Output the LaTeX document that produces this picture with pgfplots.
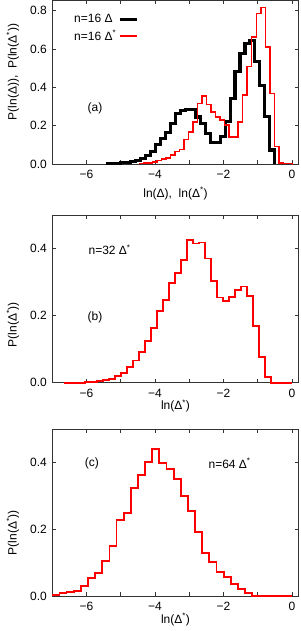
\documentclass[border=0pt]{standalone}
\usepackage{fontspec}
\setmainfont{Liberation Sans}
\usepackage{pgfplots}
\pgfplotsset{compat=1.18}

\newcommand{\fs}{\fontsize{12}{14}\selectfont}
\newcommand{\Ds}{Δ\textsuperscript{*}}

\pgfplotsset{
  myaxis/.style={
    scale only axis, width=246.4pt,
    xmin=-7, xmax=0.2,
    xtick={-6,-4,-2,0}, xticklabels={−6,−4,−2,0},
    minor xtick={-5,-3,-1},
    major tick length=4pt, minor tick length=4pt,
    every tick/.style={black!80, line width=0.6pt},
    axis line style={black!80, line width=0.8pt},
    tick label style={font=\fs},
    label style={font=\fs},
    /pgf/number format/fixed,
    /pgf/number format/fixed zerofill,
    /pgf/number format/precision=1,
    /pgf/number format/assume math mode=true,
    xticklabel style={yshift=-3pt},
    yticklabel style={xshift=-2pt},
    clip=false,
    anchor=south west,
    every axis plot/.append style={no marks, const plot mark left, line join=miter},
  }
}

\begin{document}
\begin{tikzpicture}
\useasboundingbox (0,0) rectangle (300pt,631pt);

% ---------------- (a)
\begin{axis}[myaxis, at={(52.3pt,467pt)}, height=164pt,
  ymin=0, ymax=0.855, ytick={0,0.2,0.4,0.6,0.8},
  xlabel={ln(Δ),\ \ ln(\Ds)},
  ylabel={P(ln(Δ)),\ \ P(ln(\Ds))},
  xlabel style={at={(axis description cs:0.5,-0.18)}, anchor=center},
  ylabel style={at={(axis description cs:-0.16,0.56)}, anchor=center},
  legend style={at={(axis description cs:0.08,0.925)}, anchor=north west,
    draw=none, fill=none, font=\fs, row sep=2pt, inner sep=0pt},
  legend cell align=left, legend plot pos=right,
]
\addplot[black, line width=3.1pt] coordinates {
(-5.430,0.002) (-5.285,0.003) (-5.140,0.004) (-4.995,0.006) (-4.850,0.009)
(-4.705,0.013) (-4.560,0.020) (-4.415,0.030) (-4.270,0.042) (-4.125,0.064)
(-3.980,0.100) (-3.835,0.134) (-3.690,0.165) (-3.545,0.210) (-3.400,0.264)
(-3.255,0.278) (-3.110,0.285) (-2.965,0.283) (-2.820,0.245) (-2.675,0.210)
(-2.530,0.160) (-2.385,0.111) (-2.240,0.111) (-2.095,0.142) (-1.950,0.220)
(-1.805,0.342) (-1.660,0.480) (-1.515,0.577) (-1.370,0.628) (-1.225,0.646)
(-1.080,0.533) (-0.935,0.410) (-0.790,0.246) (-0.645,0.073) (-0.500,0.000)
};
\addlegendentry{n=16 Δ}
\addplot[red, line width=1.5pt] coordinates {
(-4.472,0.002) (-4.340,0.004) (-4.208,0.006) (-4.076,0.010) (-3.944,0.017)
(-3.812,0.025) (-3.680,0.032) (-3.548,0.047) (-3.416,0.064) (-3.284,0.076)
(-3.152,0.128) (-3.020,0.168) (-2.888,0.220) (-2.756,0.316) (-2.624,0.354)
(-2.492,0.310) (-2.360,0.272) (-2.228,0.246) (-2.096,0.229) (-1.964,0.203)
(-1.832,0.142) (-1.700,0.142) (-1.568,0.220) (-1.436,0.360) (-1.304,0.507)
(-1.172,0.663) (-1.040,0.785) (-0.908,0.816) (-0.776,0.611) (-0.644,0.368)
(-0.512,0.090) (-0.380,0.006) (-0.248,0.003) (-0.116,0.002) (0.016,0.000)
};
\addlegendentry{n=16 \Ds}
\node[font=\fs] at (axis description cs:0.173,0.341) {(a)};
\end{axis}

% ---------------- (b)
\begin{axis}[myaxis, at={(52.3pt,248.3pt)}, height=167.7pt,
  ymin=0, ymax=0.5, ytick={0,0.2,0.4},
  xlabel={ln(\Ds)},
  ylabel={P(ln(\Ds))},
  xlabel style={at={(axis description cs:0.5,-0.14)}, anchor=center},
  ylabel style={at={(axis description cs:-0.16,0.345)}, anchor=center},
]
\addplot[red, line width=1.8pt] coordinates {
(-6.650,0.000)
(-6.035,0.001) (-5.860,0.002) (-5.685,0.004) (-5.510,0.007) (-5.335,0.012)
(-5.160,0.020) (-4.985,0.030) (-4.810,0.046) (-4.635,0.066) (-4.460,0.092)
(-4.285,0.124) (-4.110,0.162) (-3.935,0.214) (-3.760,0.246) (-3.585,0.298)
(-3.410,0.328) (-3.235,0.365) (-3.060,0.425) (-2.885,0.415) (-2.710,0.418)
(-2.535,0.370) (-2.360,0.304) (-2.185,0.254) (-2.010,0.243) (-1.835,0.256)
(-1.660,0.276) (-1.485,0.287) (-1.310,0.259) (-1.135,0.169) (-0.960,0.077)
(-0.785,0.018) (-0.610,0.000) (0.000,0.000)
};
\node[font=\fs, anchor=west] at (axis description cs:0.133,0.791) {n=32 \Ds};
\node[font=\fs] at (axis description cs:0.173,0.39) {(b)};
\end{axis}

% ---------------- (c)
\begin{axis}[myaxis, at={(52.3pt,35pt)}, height=166.7pt,
  ymin=0, ymax=0.5, ytick={0,0.2,0.4},
  xlabel={ln(\Ds)},
  ylabel={P(ln(\Ds))},
  xlabel style={at={(axis description cs:0.5,-0.14)}, anchor=center},
  ylabel style={at={(axis description cs:-0.16,0.38)}, anchor=center},
]
\addplot[red, line width=1.8pt] coordinates {
(-7.000,0.004) (-6.791,0.008) (-6.583,0.012) (-6.374,0.015) (-6.166,0.030)
(-5.957,0.055) (-5.748,0.070) (-5.540,0.105) (-5.331,0.150) (-5.123,0.229)
(-4.914,0.250) (-4.705,0.325) (-4.497,0.362) (-4.288,0.402) (-4.080,0.442)
(-3.871,0.399) (-3.662,0.380) (-3.454,0.350) (-3.245,0.300) (-3.037,0.255)
(-2.828,0.193) (-2.619,0.130) (-2.411,0.103) (-2.202,0.073) (-1.994,0.058)
(-1.785,0.035) (-1.576,0.022) (-1.368,0.010) (-1.159,0.000) (0.000,0.000)
};
\node[font=\fs] at (axis description cs:0.161,0.796) {(c)};
\node[font=\fs, anchor=west] at (axis description cs:0.62,0.796) {n=64 \Ds};
\end{axis}
\end{tikzpicture}
\end{document}
